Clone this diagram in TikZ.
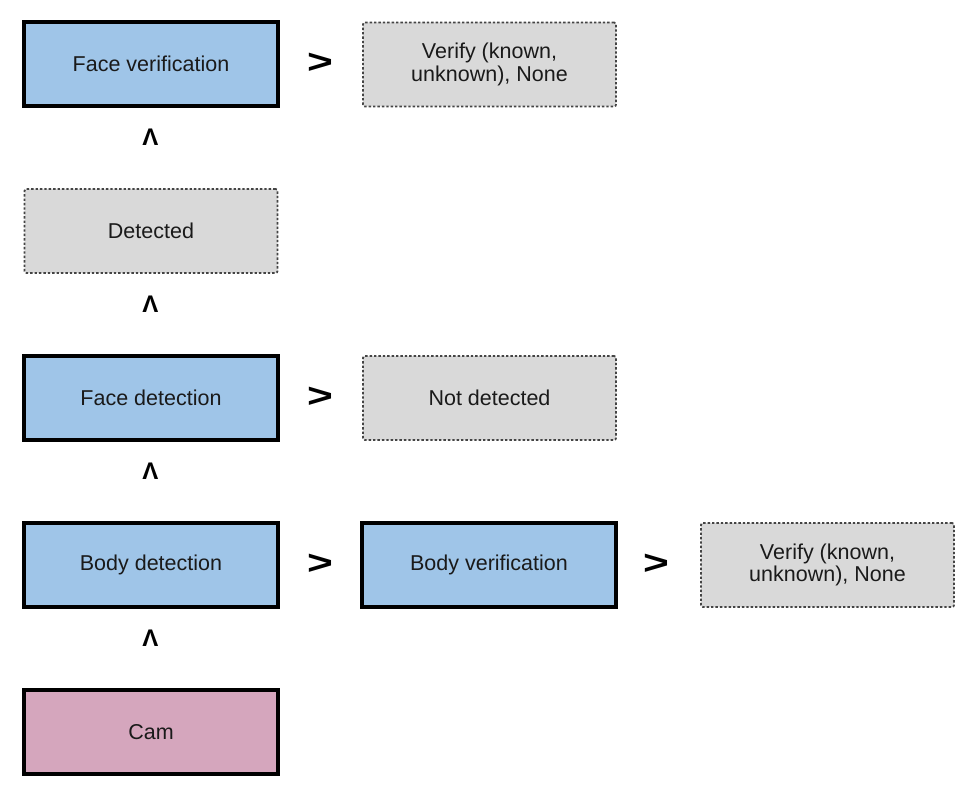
\documentclass[tikz,border=0pt]{standalone}
\usepackage{fontspec}
\setmainfont{Liberation Sans}
\definecolor{boxblue}{HTML}{9FC5E8}
\definecolor{boxpink}{HTML}{D5A6BD}
\definecolor{boxgray}{HTML}{D9D9D9}
\definecolor{dotline}{HTML}{444444}
\definecolor{txt}{HTML}{1A1A1A}
\begin{document}
\begin{tikzpicture}[x=1pt,y=-1pt,
  solidbox/.style={draw=black,line width=4pt,minimum width=254pt,minimum height=84pt,
    inner sep=0pt,align=center,text=txt,font=\fontsize{21.5}{22.5}\selectfont},
  bluebox/.style={solidbox,fill=boxblue},
  pinkbox/.style={solidbox,fill=boxpink},
  dotbox/.style={draw=dotline,line width=1.8pt,dash pattern=on 2.4pt off 2pt,rounded corners=2pt,
    fill=boxgray,minimum width=253pt,minimum height=84pt,inner sep=0pt,align=center,text=txt,
    font=\fontsize{21.5}{22.5}\selectfont},
  gtsign/.style={inner sep=0pt,font=\bfseries\fontsize{34}{34}\selectfont,xscale=1.3},
  upsign/.style={inner sep=0pt,font=\bfseries\fontsize{24}{24}\selectfont}
]
\useasboundingbox (0,0) rectangle (978,805);
\fill[white] (0,0) rectangle (978,805);
% boxes
\node[bluebox] (fv) at (151,64) {Face verification};
\node[dotbox] (fvr) at (489.5,64.5) {Verify (known,\\unknown), None};
\node[dotbox] (det) at (151,231) {Detected};
\node[bluebox] (fd) at (151,398) {Face detection};
\node[dotbox] (nd) at (489.5,398) {Not detected};
\node[bluebox] (bd) at (151,565) {Body detection};
\node[bluebox] (bv) at (489,565) {Body verification};
\node[dotbox] (bvr) at (827.5,565) {Verify (known,\\unknown), None};
\node[pinkbox] (cam) at (151,732) {Cam};
% signs
\node[gtsign] (g1) at (320,63) {>};
\node[gtsign] (g2) at (320,397) {>};
\node[gtsign] (g3) at (320,564) {>};
\node[gtsign] (g4) at (656,564) {>};
\node[upsign] (u1) at (150.5,137) {Λ};
\node[upsign] (u2) at (150.5,304) {Λ};
\node[upsign] (u3) at (150.5,471) {Λ};
\node[upsign] (u4) at (150.5,638) {Λ};
\end{tikzpicture}
\end{document}
